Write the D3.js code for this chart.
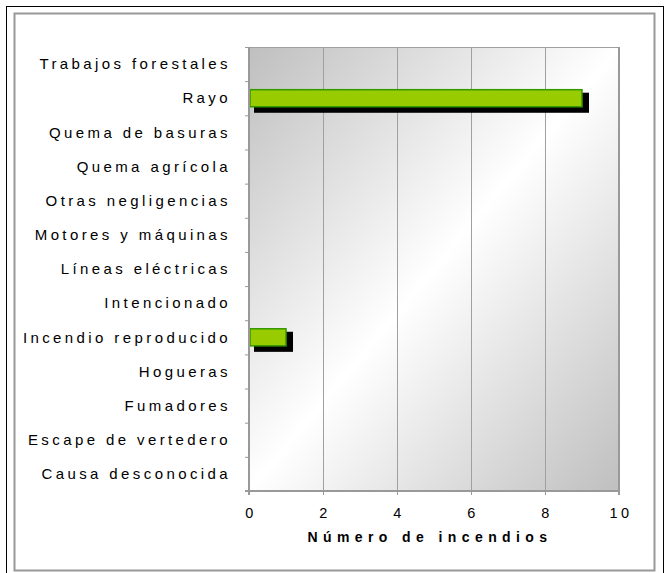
<!DOCTYPE html>
<html><head><meta charset="utf-8">
<script src="https://cdn.jsdelivr.net/npm/d3@7"></script>
<style>html,body{margin:0;padding:0;background:#fff;}svg{display:block;font-family:"Liberation Sans",Arial,sans-serif;}</style>
</head><body>
<script>
const categories = ["Trabajos forestales","Rayo","Quema de basuras","Quema agrícola","Otras negligencias","Motores y máquinas","Líneas eléctricas","Intencionado","Incendio reproducido","Hogueras","Fumadores","Escape de vertedero","Causa desconocida"];
const values = [0,9,0,0,0,0,0,0,1,0,0,0,0];
const xTicks = [0,2,4,6,8,10];
const xTitle = "Número de incendios";

const W=669,H=573;
const svg=d3.select("body").append("svg").attr("width",W).attr("height",H);
const m={l:249,r:619,t:47,b:491};
const x=d3.scaleLinear().domain([0,10]).range([m.l,m.r]);
const y=d3.scaleBand().domain(categories).range([m.t,m.b]).paddingInner(0.5).paddingOuter(0.25);
const yb=d3.scaleBand().domain(categories).range([m.t,m.b]);

svg.append("rect").attr("x",6.5).attr("y",6.5).attr("width",657).attr("height",580).attr("fill","#fff").attr("stroke","#000").attr("stroke-width",1);
svg.append("rect").attr("x",14.5).attr("y",13.5).attr("width",640).attr("height",557).attr("fill","#fff").attr("stroke","#999").attr("stroke-width",2);

const defs=svg.append("defs");
const g=defs.append("linearGradient").attr("id","bg").attr("x1","0").attr("y1","0").attr("x2","1").attr("y2","1");
g.append("stop").attr("offset","0").attr("stop-color","#bfbfbf");
g.append("stop").attr("offset","0.5").attr("stop-color","#ffffff");
g.append("stop").attr("offset","1").attr("stop-color","#bfbfbf");

svg.append("rect").attr("x",m.l).attr("y",m.t).attr("width",m.r-m.l).attr("height",m.b-m.t).attr("fill","url(#bg)");

svg.append("g").selectAll("line").data(xTicks.slice(1)).join("line")
 .attr("x1",d=>x(d)+0.5).attr("x2",d=>x(d)+0.5).attr("y1",m.t).attr("y2",m.b)
 .attr("stroke","#a0a0a0").attr("stroke-width",1);
svg.append("line").attr("x1",m.l).attr("x2",m.r).attr("y1",m.t+0.5).attr("y2",m.t+0.5).attr("stroke","#a0a0a0");

const barData = values.map((v,i)=>({c:categories[i],v})).filter(d=>d.v>0);
svg.append("g").selectAll("rect").data(barData).join("rect")
 .attr("x",x(0)+5).attr("y",d=>y(d.c)+3).attr("width",d=>x(d.v)-x(0)+2).attr("height",y.bandwidth()+3).attr("fill","#000");
svg.append("g").selectAll("rect").data(barData).join("rect")
 .attr("x",x(0)+1).attr("y",d=>y(d.c)).attr("width",d=>x(d.v)-x(0)-1).attr("height",y.bandwidth())
 .attr("fill","#99cc00").attr("stroke","#339900").attr("stroke-width",1.5);

svg.append("line").attr("x1",m.l).attr("x2",m.l).attr("y1",m.t).attr("y2",m.b+4).attr("stroke","#999").attr("stroke-width",2);
svg.append("line").attr("x1",m.l-4).attr("x2",m.r+1).attr("y1",m.b).attr("y2",m.b).attr("stroke","#999").attr("stroke-width",2);
svg.append("line").attr("x1",m.r).attr("x2",m.r).attr("y1",m.t).attr("y2",m.b+4).attr("stroke","#999").attr("stroke-width",2);

svg.append("g").selectAll("line").data(categories).join("line")
 .attr("x1",m.l-4).attr("x2",m.l).attr("y1",d=>yb(d)+0.5).attr("y2",d=>yb(d)+0.5).attr("stroke","#999");
svg.append("g").selectAll("line").data(xTicks).join("line")
 .attr("x1",d=>x(d)+0.5).attr("x2",d=>x(d)+0.5).attr("y1",m.b).attr("y2",m.b+4).attr("stroke","#999");

svg.append("g").selectAll("text").data(categories).join("text")
 .attr("x",231).attr("y",d=>yb(d)+yb.bandwidth()/2).attr("dy","0.35em")
 .attr("text-anchor","end").attr("font-size",15).attr("letter-spacing",3.4).attr("fill","#000").text(d=>d);

svg.append("g").selectAll("text").data(xTicks).join("text")
 .attr("x",d=>x(d)+2).attr("y",513).attr("dy","0.35em").attr("text-anchor","middle")
 .attr("font-size",14.5).attr("letter-spacing",3.5).text(d=>d);

svg.append("text").attr("x",430).attr("y",537).attr("dy","0.35em").attr("text-anchor","middle")
 .attr("font-size",14).attr("font-weight","bold").attr("letter-spacing",5.4).text(xTitle);
</script>
</body></html>
